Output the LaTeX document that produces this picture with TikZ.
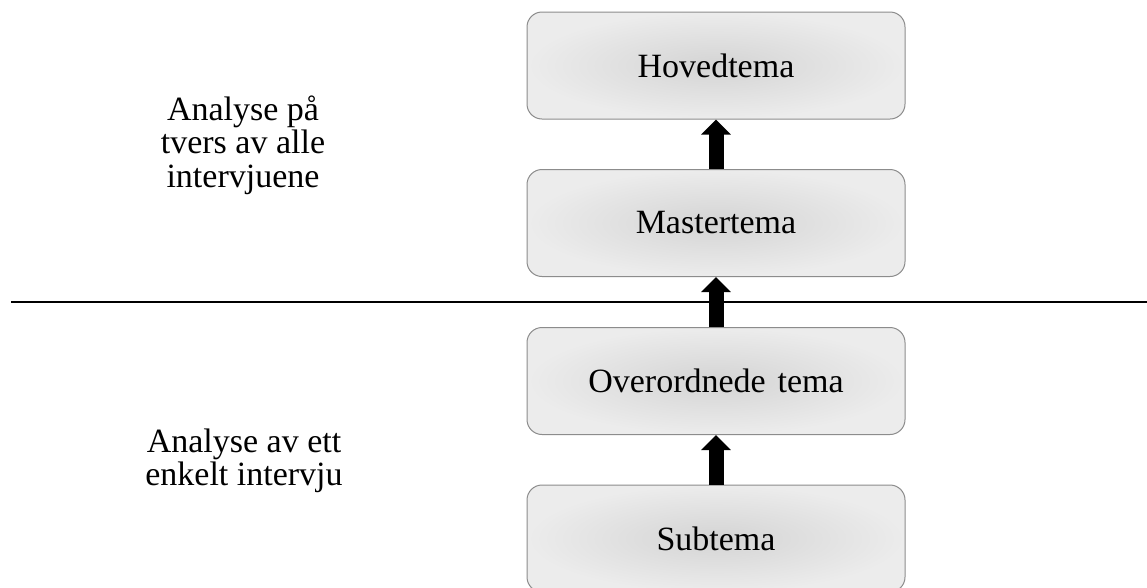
\documentclass[tikz,border=0pt]{standalone}
\usepackage{fontspec}
\setmainfont{Liberation Serif}
\usetikzlibrary{arrows.meta}
\definecolor{boxinner}{RGB}{212,212,212}
\definecolor{boxouter}{RGB}{236,236,236}
\definecolor{boxline}{RGB}{140,140,140}
\tikzset{
  themebox/.style={draw=boxline, line width=1pt, rounded corners=15pt,
    inner color=boxinner, outer color=boxouter,
    minimum width=378pt, minimum height=107pt, inner sep=0pt,
    font=\fontsize{34}{34}\selectfont},
  sidelabel/.style={align=center, inner sep=0pt,
    font=\fontsize{34}{33.5}\selectfont},
  uparrow/.style={line width=15pt, -{Triangle[width=29pt,length=15pt]}},
  divider/.style={line width=2pt}
}
\begin{document}
\begin{tikzpicture}[x=1pt,y=-1pt]
  \clip (0,0) rectangle (1147,587);
  \fill[white] (0,0) rectangle (1147,587);
  \node[themebox] (h) at (716,65.5) {Hovedtema};
  \node[themebox] (m) at (716,223) {Mastertema};
  \node[themebox] (o) at (716,381) {Overordnede\hspace{0.1em} tema};
  \node[themebox] (s) at (716,538.5) {Subtema};
  \coordinate (l1) at (11,302);
  \coordinate (l2) at (1147,302);
  \draw[divider] (l1) -- (l2);
  \draw[uparrow] (m.north) -- (h.south);
  \draw[uparrow] (o.north) -- (m.south);
  \draw[uparrow] (s.north) -- (o.south);
  \node[sidelabel] (ta) at (243,145) {Analyse på\\tvers av alle\\intervjuene};
  \node[sidelabel] (tb) at (244,461) {Analyse av ett\\enkelt intervju};
\end{tikzpicture}
\end{document}
